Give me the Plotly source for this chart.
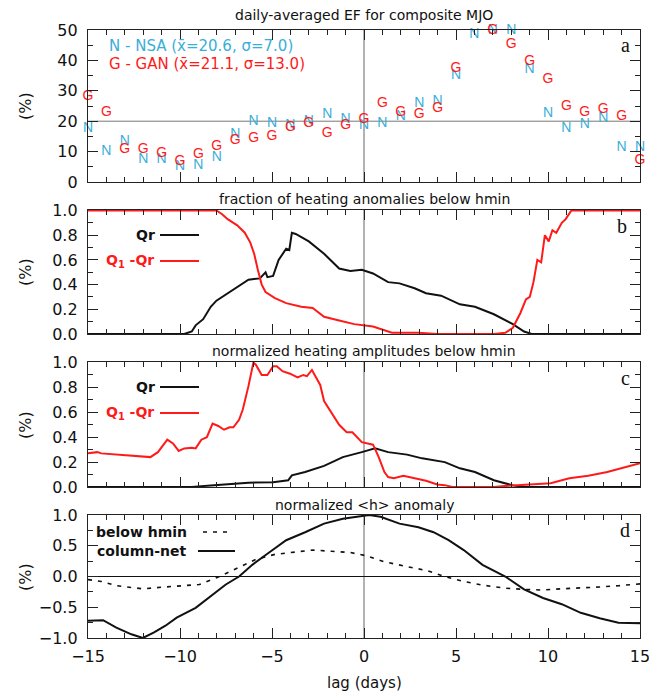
import plotly.graph_objects as go

# ---------------- data ----------------
lag_days = list(range(-15, 16))
nsa_ef = [17.7, 10.1, 13.3, 7.5, 7.5, 5.1, 5.5, 8.1, 15.5, 19.9, 19.4, 18.7, 19.9, 22.1, 20.7,
          18.5, 19.4, 21.6, 25.9, 26.5, 35.0, 48.4, 50.0, 50.0, 36.9, 22.6, 17.7, 18.8, 20.8, 11.2, 11.2]
gan_ef = [28.1, 23.0, 10.6, 10.6, 9.5, 6.8, 9.0, 11.7, 13.7, 14.3, 15.0, 17.9, 19.1, 16.1, 18.6,
          20.7, 25.7, 23.0, 22.1, 24.3, 37.4, 50.3, 49.8, 45.1, 39.6, 33.6, 24.8, 22.9, 23.7, 21.6, 7.0]

# panel b: fraction of heating anomalies below hmin
b_qr_lag = [-15.0, -9.77, -9.36, -9.15, -8.74, -8.33, -8.02, -7.51, -6.89, -6.28, -5.66, -5.35, -5.25,
            -4.94, -4.64, -4.23, -4.06, -3.92, -3.71, -3.0, -2.17, -1.35, -0.74, -0.12, 0.49, 1.31,
            1.93, 2.75, 3.37, 4.19, 5.21, 6.03, 7.06, 8.09, 8.70, 9.11, 15.0]
b_qr_val = [0.0, 0.0, 0.02, 0.07, 0.12, 0.22, 0.27, 0.32, 0.38, 0.44, 0.45, 0.50, 0.46,
            0.47, 0.60, 0.69, 0.68, 0.82, 0.81, 0.75, 0.65, 0.53, 0.51, 0.52, 0.49, 0.42,
            0.41, 0.37, 0.33, 0.31, 0.24, 0.22, 0.16, 0.08, 0.02, 0.0, 0.0]
b_q1_lag = [-15.0, -8.02, -7.71, -7.41, -6.89, -6.48, -6.18, -5.97, -5.77, -5.56, -5.35, -4.84,
            -4.23, -3.41, -2.79, -2.17, -1.35, -0.53, 0.49, 1.11, 1.52, 2.96, 3.98, 7.06, 7.68,
            8.09, 8.50, 8.80, 9.01, 9.21, 9.42, 9.63, 9.83, 10.04, 10.24, 10.45, 10.75, 10.96,
            11.27, 15.0]
b_q1_val = [1.0, 1.0, 0.97, 0.93, 0.88, 0.82, 0.74, 0.65, 0.52, 0.40, 0.34, 0.29,
            0.25, 0.22, 0.21, 0.14, 0.11, 0.08, 0.06, 0.03, 0.01, 0.01, 0.0, 0.0, 0.01,
            0.05, 0.17, 0.28, 0.30, 0.42, 0.60, 0.58, 0.80, 0.75, 0.84, 0.82, 0.90, 0.93,
            1.0, 1.0]

# panel c: normalized heating amplitudes below hmin
c_qr_lag = [-15.0, -9.36, -8.33, -7.30, -6.28, -4.94, -4.12, -3.92, -3.20, -2.17, -1.15, -0.12,
            0.29, 0.60, 1.31, 2.34, 3.16, 4.39, 5.21, 6.03, 7.06, 8.09, 8.70, 15.0]
c_qr_val = [0.0, 0.0, 0.013, 0.027, 0.035, 0.038, 0.054, 0.094, 0.12, 0.17, 0.24, 0.28,
            0.295, 0.31, 0.28, 0.26, 0.23, 0.20, 0.15, 0.12, 0.054, 0.013, 0.0, 0.0]
c_q1_lag = [-15.0, -14.49, -14.28, -13.46, -12.43, -11.61, -11.20, -10.69, -10.38, -10.07, -9.77,
            -9.36, -9.15, -8.84, -8.54, -8.23, -7.92, -7.61, -7.30, -7.10, -6.79, -6.59, -6.28,
            -6.01, -5.87, -5.56, -5.25, -4.94, -4.74, -4.43, -4.02, -3.61, -3.30, -3.10, -2.83,
            -2.58, -2.38, -2.17, -1.76, -1.35, -0.94, -0.63, -0.12, 0.49, 0.80, 1.11, 1.31, 1.62,
            2.14, 2.75, 3.37, 3.98, 4.39, 4.80, 7.06, 8.09, 9.11, 10.14, 11.16, 12.19, 13.22,
            14.24, 15.0]
c_q1_val = [0.27, 0.28, 0.27, 0.26, 0.25, 0.24, 0.28, 0.38, 0.35, 0.29, 0.31,
            0.315, 0.31, 0.38, 0.40, 0.51, 0.49, 0.46, 0.48, 0.48, 0.54, 0.62, 0.81,
            1.0, 0.98, 0.90, 0.90, 0.97, 0.97, 0.93, 0.91, 0.88, 0.90, 0.89, 0.94,
            0.87, 0.82, 0.69, 0.60, 0.50, 0.44, 0.44, 0.36, 0.34, 0.24, 0.12, 0.08, 0.07,
            0.09, 0.07, 0.05, 0.02, 0.015, 0.0, 0.0, 0.013, 0.02, 0.03, 0.07, 0.09, 0.12,
            0.16, 0.19]

# panel d: normalized <h> anomaly
d_net_lag = [-15.0, -14.18, -13.46, -12.64, -12.02, -11.41, -10.79, -10.18, -9.15, -8.33, -7.51,
             -6.79, -6.07, -5.25, -4.23, -3.20, -2.17, -1.15, -0.12, 0.29, 0.90, 1.93, 2.96,
             3.78, 4.60, 5.42, 6.44, 7.68, 8.70, 9.73, 10.75, 11.78, 12.81, 13.83, 15.0]
d_net_val = [-0.72, -0.71, -0.83, -0.94, -1.0, -0.91, -0.80, -0.67, -0.51, -0.32, -0.13,
             0.0, 0.19, 0.37, 0.59, 0.72, 0.86, 0.94, 0.99, 1.0, 0.97, 0.86, 0.80,
             0.72, 0.59, 0.43, 0.19, 0.0, -0.21, -0.35, -0.45, -0.59, -0.68, -0.75, -0.76]
d_below_lag = [-15.0, -14.28, -13.46, -12.02, -10.79, -9.77, -8.95, -7.92, -6.89, -5.87, -4.84,
               -3.82, -2.79, -1.76, -0.74, 0.08, 1.11, 2.34, 3.37, 4.39, 5.42, 6.44, 7.68, 8.70,
               9.73, 10.75, 11.78, 12.81, 13.83, 15.0]
d_below_val = [-0.05, -0.08, -0.15, -0.20, -0.17, -0.15, -0.13, -0.01, 0.13, 0.28, 0.36,
               0.40, 0.43, 0.41, 0.39, 0.34, 0.24, 0.16, 0.10, 0.0, -0.08, -0.14, -0.19, -0.21,
               -0.22, -0.20, -0.19, -0.17, -0.15, -0.12]

x_ticks = [-15, -10, -5, 0, 5, 10, 15]

# ---------------- styling ----------------
CYAN = "#3aaed8"
RED = "#ff1a1a"
BLACK = "#111111"
AXC = "#222222"
FONT = "DejaVu Sans"

W, H = 649, 693
L, R, T, B = 88, 9, 30, 55
PW, PH = W - L - R, H - T - B


def px(x):
    return (x - L) / PW


def py(y):
    return (H - B - y) / PH


fig = go.Figure()

# panel a
fig.add_trace(go.Scatter(x=lag_days, y=nsa_ef, mode="text", text=["N"] * len(lag_days),
                         textfont=dict(family="Liberation Sans", size=14, color=CYAN),
                         cliponaxis=False, xaxis="x", yaxis="y", showlegend=False))
fig.add_trace(go.Scatter(x=lag_days, y=gan_ef, mode="text", text=["G"] * len(lag_days),
                         textfont=dict(family="Liberation Sans", size=14, color=RED),
                         cliponaxis=False, xaxis="x", yaxis="y", showlegend=False))
# panel b
fig.add_trace(go.Scatter(x=b_qr_lag, y=b_qr_val, mode="lines", line=dict(color=BLACK, width=2),
                         xaxis="x2", yaxis="y2", showlegend=False))
fig.add_trace(go.Scatter(x=b_q1_lag, y=b_q1_val, mode="lines", line=dict(color=RED, width=2),
                         xaxis="x2", yaxis="y2", showlegend=False))
# panel c
fig.add_trace(go.Scatter(x=c_qr_lag, y=c_qr_val, mode="lines", line=dict(color=BLACK, width=2),
                         xaxis="x3", yaxis="y3", showlegend=False))
fig.add_trace(go.Scatter(x=c_q1_lag, y=c_q1_val, mode="lines", line=dict(color=RED, width=2),
                         xaxis="x3", yaxis="y3", showlegend=False))
# panel d
fig.add_trace(go.Scatter(x=d_below_lag, y=d_below_val, mode="lines",
                         line=dict(color=BLACK, width=1.6, dash="4px,6px"),
                         xaxis="x4", yaxis="y4", showlegend=False))
fig.add_trace(go.Scatter(x=d_net_lag, y=d_net_val, mode="lines", line=dict(color=BLACK, width=2),
                         xaxis="x4", yaxis="y4", showlegend=False))

domains = {
    "a": [py(182), py(30)],
    "b": [py(334), py(210)],
    "c": [py(487), py(362)],
    "d": [py(638), py(515)],
}

ax_common = dict(showline=True, linecolor=AXC, linewidth=1.4, mirror="allticks",
                 ticks="inside", ticklen=10, tickwidth=1.2, tickcolor=AXC,
                 showgrid=False, zeroline=False, automargin=False,
                 tickfont=dict(family=FONT, size=16, color=BLACK))

xcommon = dict(ax_common, range=[-15, 15], tickvals=x_ticks,
               minor=dict(dtick=1, tick0=0, ticks="inside", ticklen=5, tickcolor=AXC, tickwidth=1.2))

layout = dict(
    width=W, height=H,
    margin=dict(l=L, r=R, t=T, b=B, pad=0, autoexpand=False),
    paper_bgcolor="white", plot_bgcolor="white",
    xaxis=dict(xcommon, domain=[0, 1], anchor="y", showticklabels=False),
    xaxis2=dict(xcommon, domain=[0, 1], anchor="y2", showticklabels=False),
    xaxis3=dict(xcommon, domain=[0, 1], anchor="y3", showticklabels=False),
    xaxis4=dict(xcommon, domain=[0, 1], anchor="y4", showticklabels=True,
                ticklabelstandoff=4, ticklabeloverflow="allow"),
    yaxis=dict(ax_common, domain=domains["a"], anchor="x", range=[0, 50],
               tickvals=[0, 10, 20, 30, 40, 50], ticklabelstandoff=6,
               minor=dict(dtick=5, ticks="inside", ticklen=5, tickcolor=AXC, tickwidth=1.2)),
    yaxis2=dict(ax_common, domain=domains["b"], anchor="x2", range=[0, 1.004],
                tickvals=[0, 0.2, 0.4, 0.6, 0.8, 1.0], tickformat=".1f", ticklabelstandoff=6,
                minor=dict(dtick=0.1, ticks="inside", ticklen=5, tickcolor=AXC, tickwidth=1.2)),
    yaxis3=dict(ax_common, domain=domains["c"], anchor="x3", range=[0, 1.004],
                tickvals=[0, 0.2, 0.4, 0.6, 0.8, 1.0], tickformat=".1f", ticklabelstandoff=6,
                minor=dict(dtick=0.1, ticks="inside", ticklen=5, tickcolor=AXC, tickwidth=1.2)),
    yaxis4=dict(ax_common, domain=domains["d"], anchor="x4", range=[-1, 1],
                tickvals=[-1, -0.5, 0, 0.5, 1.0], tickformat=".1f", ticklabelstandoff=6,
                minor=dict(dtick=0.25, tick0=0, ticks="inside", ticklen=5, tickcolor=AXC, tickwidth=1.2)),
)
fig.update_layout(**layout)

shapes = []
# reference lines
for xr, yr in [("x", "y"), ("x2", "y2"), ("x3", "y3"), ("x4", "y4")]:
    shapes.append(dict(type="line", xref=xr, yref=yr + " domain", x0=0, x1=0, y0=0, y1=1,
                       line=dict(color="#666666", width=1), layer="below"))
shapes.append(dict(type="line", xref="x domain", yref="y", x0=0, x1=1, y0=20, y1=20,
                   line=dict(color="#777777", width=1), layer="below"))
shapes.append(dict(type="line", xref="x4 domain", yref="y4", x0=0, x1=1, y0=0, y1=0,
                   line=dict(color=BLACK, width=1), layer="below"))
# legend sample lines
for yy, col in [(235, BLACK), (261, RED), (387, BLACK), (413, RED)]:
    shapes.append(dict(type="line", xref="paper", yref="paper", x0=px(160), x1=px(199),
                       y0=py(yy), y1=py(yy), line=dict(color=col, width=2)))
shapes.append(dict(type="line", xref="paper", yref="paper", x0=px(203), x1=px(233),
                   y0=py(532), y1=py(532), line=dict(color=BLACK, width=1.6, dash="4px,6px")))
shapes.append(dict(type="line", xref="paper", yref="paper", x0=px(198), x1=px(235),
                   y0=py(551), y1=py(551), line=dict(color=BLACK, width=2)))
fig.update_layout(shapes=shapes)

ann = []


def txt(text, x, y, size=14, color=BLACK, family=FONT, xanchor="center", angle=0):
    ann.append(dict(text=text, x=px(x), y=py(y), xref="paper", yref="paper", showarrow=False,
                    xanchor=xanchor, yanchor="middle", textangle=angle,
                    font=dict(family=family, size=size, color=color)))


# titles
txt("daily-averaged EF for composite MJO", 364, 15)
txt("fraction of heating anomalies below hmin", 364, 199)
txt("normalized heating amplitudes below hmin", 364, 351)
txt("normalized &lt;h&gt; anomaly", 364, 505)
# y titles
for yc in [106, 272, 425, 577]:
    txt("(%)", 25, yc, size=16, angle=-90)
# x title
txt("lag (days)", 364, 683, size=15)
# panel a legend
txt("N - NSA (x\u0304=20.6, \u03c3=7.0)", 107, 46, size=15, color=CYAN, xanchor="left")
txt("G - GAN (x\u0304=21.1, \u03c3=13.0)", 107, 64, size=15, color=RED, xanchor="left")
# panel b/c legends
for yq, yq1 in [(235, 261), (387, 413)]:
    txt("<b>Qr</b>", 157, yq, size=14, xanchor="right")
    txt("<b>Q<sub>1</sub> -Qr</b>", 156, yq1, size=14, color=RED, xanchor="right")
# panel d legend
txt("<b>below hmin</b>", 189, 532, size=14, xanchor="right")
txt("<b>column-net</b>", 189, 551, size=14, xanchor="right")
# panel letters
for lab, xx, yy in [("a", 625, 45), ("b", 622, 226), ("c", 625, 378), ("d", 625, 530)]:
    txt(lab, xx, yy, size=20, family="Liberation Serif")

fig.update_layout(annotations=ann)
fig.write_html("out.html")
